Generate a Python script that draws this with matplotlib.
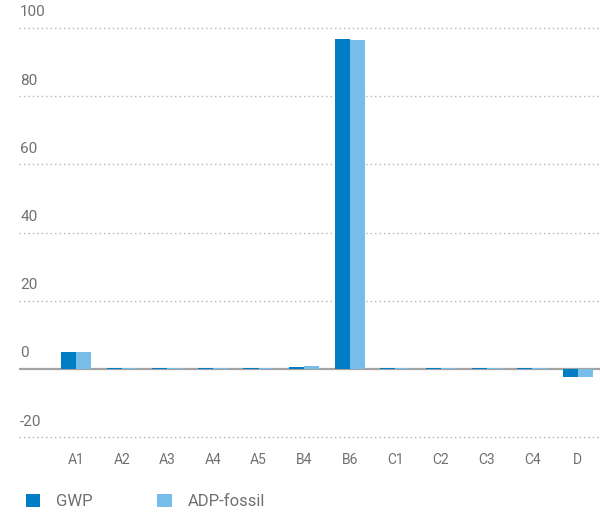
import numpy as np
import matplotlib.pyplot as plt
from matplotlib.patches import Patch

plt.rcParams["font.family"] = ["Roboto", "DejaVu Sans"]

categories = ["A1", "A2", "A3", "A4", "A5", "B4", "B6", "C1", "C2", "C3", "C4", "D"]
gwp = [4.9, 0.3, 0.2, 0.2, 0.2, 0.6, 96.8, 0.2, 0.2, 0.2, 0.2, -2.4]
adp_fossil = [4.9, 0.2, 0.2, 0.2, 0.2, 0.9, 96.5, 0.2, 0.2, 0.2, 0.2, -2.4]
y_ticks = [100, 80, 60, 40, 20, 0, -20]

gwp_color = "#007dc5"
adp_color = "#77bdea"
text_color = "#707070"

fig = plt.figure(figsize=(6.0, 5.14), dpi=100)
fig.patch.set_facecolor("white")
ax = fig.add_axes([0.0317, 0.1428, 0.968, 0.816])

x = np.arange(len(categories))
w = 0.33
ax.bar(x - w / 2, gwp, width=w, color=gwp_color, zorder=3, label="GWP")
ax.bar(x + w / 2, adp_fossil, width=w, color=adp_color, zorder=3, label="ADP-fossil")

# dotted gridlines, solid zero line
for t in y_ticks:
    if t == 0:
        ax.axhline(0, color="#a3a3a3", linewidth=1.6, zorder=2)
    else:
        ax.axhline(t, color="#b5b5b5", linewidth=1.0, linestyle=(0, (1, 2.2)), zorder=1)
    ax.text(0.002, t + 4.6, f"{t}", transform=ax.get_yaxis_transform(),
            ha="left", va="center", fontsize=11, color=text_color)

ax.set_xlim(-1.25, 11.48)
ax.set_ylim(-21, 102)
ax.set_yticks([])
ax.set_xticks(x)
ax.set_xticklabels(categories, fontsize=10, color=text_color)
ax.tick_params(axis="x", length=0, pad=9)
for s in ax.spines.values():
    s.set_visible(False)

handles = [Patch(facecolor=gwp_color, label="GWP"),
           Patch(facecolor=adp_color, label="ADP-fossil")]
leg = fig.legend(handles=handles, loc="lower left", bbox_to_anchor=(0.018, -0.02),
                 ncol=2, frameon=False, fontsize=12, handlelength=0.85,
                 handleheight=0.85, handletextpad=0.95, columnspacing=3.9)
for t in leg.get_texts():
    t.set_color(text_color)

plt.savefig("out.png", dpi=100, facecolor="white")
